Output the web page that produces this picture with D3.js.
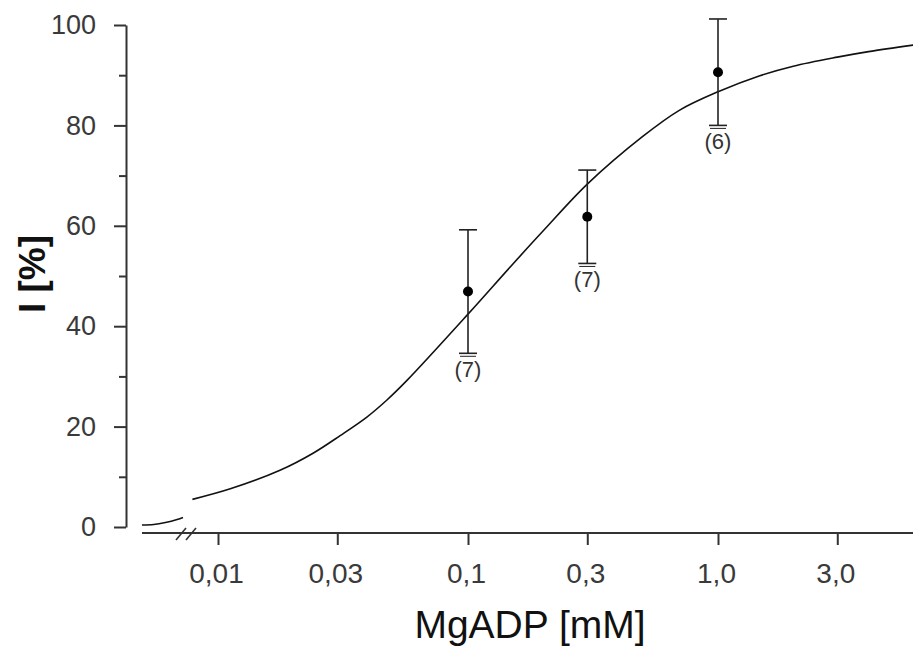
<!DOCTYPE html>
<meta charset="utf-8">
<style>
body { margin: 0; background: #fff; }
svg { display: block; font-family: "Liberation Sans", Arial, sans-serif; }
.axis path, .axis line { stroke: #333; stroke-width: 2px; fill: none; }
.axis text { fill: #3a3a3a; }
.fit { fill: none; stroke: #111; stroke-width: 1.6px; }
.err line { stroke: #222; stroke-width: 1.6px; }
</style>
<body>
<script src="https://d3js.org/d3.v7.min.js"></script>
<script>

var width = 913,
    height = 652;

// measured points (mean, error, n)
var conc = [0.1, 0.3, 1.0];
var inhib = [46.9, 61.8, 90.6];
var errs = [12.3, 9.3, 10.6];
var nLabels = ["(7)", "(7)", "(6)"];

// fitted curve
var fitX = [0.0079, 0.0112, 0.0177, 0.024, 0.0308, 0.0394, 0.0474, 0.057, 0.1, 0.15, 0.2, 0.3, 0.5, 0.7, 1.0, 1.47, 2.0, 3.0, 4.0, 6.03];
var fitY = [5.5, 7.6, 11.3, 14.7, 18.2, 21.9, 25.3, 29.2, 42.4, 52.2, 59.0, 68.3, 77.8, 83.0, 86.7, 89.9, 91.8, 93.6, 94.7, 96.0];

// piece of the curve left of the axis break (x near zero)
var zeroX = [0, 0.001, 0.002, 0.003, 0.0035];
var zeroY = [0.4, 0.5, 0.9, 1.5, 1.9];

var xTicks = [0.01, 0.03, 0.1, 0.3, 1, 3];
var xTickLabels = ["0,01", "0,03", "0,1", "0,3", "1,0", "3,0"];
var yMajor = [0, 20, 40, 60, 80, 100];
var yMinor = [10, 30, 50, 70, 90];

var svg = d3.select("body").append("svg")
    .attr("width", width)
    .attr("height", height);

var x = d3.scaleLog().domain([0.01, 1]).range([218, 718]);
var xZero = d3.scaleLinear().domain([0, 0.0035]).range([142, 183]);
var y = d3.scaleLinear().domain([0, 100]).range([527, 25]);

var axisY = 533, yAxisX = 126;

// x axis
var gx = svg.append("g")
    .attr("class", "axis")
    .attr("transform", "translate(0," + axisY + ")")
    .call(d3.axisBottom(x)
        .tickValues(xTicks)
        .tickSize(12)
        .tickFormat(function(d, i) { return xTickLabels[i]; }));
gx.select(".domain").remove();
gx.selectAll("text")
    .attr("x", -2)
    .attr("y", 36)
    .attr("dy", "0.5em")
    .style("font-size", "28px")
    .style("font-family", "Liberation Sans, Arial, sans-serif");

svg.append("line")
    .attr("x1", xZero(0)).attr("x2", width)
    .attr("y1", axisY).attr("y2", axisY)
    .attr("stroke", "#333").attr("stroke-width", 2);

// break marks
[0, 10].forEach(function(o) {
  svg.append("line")
      .attr("x1", 176 + o).attr("y1", axisY + 7)
      .attr("x2", 186 + o).attr("y2", axisY - 5)
      .attr("stroke", "#333").attr("stroke-width", 1.6);
});

// y axis
var gy = svg.append("g")
    .attr("class", "axis")
    .attr("transform", "translate(" + yAxisX + ",0)")
    .call(d3.axisLeft(y)
        .tickValues(yMajor)
        .tickSize(12)
        .tickSizeOuter(0)
        .tickPadding(18));
gy.selectAll("text")
    .style("font-size", "27px")
    .style("font-family", "Liberation Sans, Arial, sans-serif");

svg.append("g")
    .attr("class", "axis")
    .attr("transform", "translate(" + yAxisX + ",0)")
    .call(d3.axisLeft(y).tickValues(yMinor).tickSize(7).tickFormat(""))
    .select(".domain").remove();

// axis titles
svg.append("text")
    .attr("x", 530)
    .attr("y", 638)
    .attr("text-anchor", "middle")
    .style("font-size", "39px")
    .attr("fill", "#111")
    .text("MgADP [mM]");

svg.append("text")
    .attr("transform", "translate(45,274) rotate(-90)")
    .attr("text-anchor", "middle")
    .style("font-size", "37px")
    .style("font-weight", "bold")
    .attr("fill", "#111")
    .text("I [%]");

// fitted curve
var line = d3.line().curve(d3.curveCatmullRom.alpha(0.5));

svg.append("path")
    .attr("class", "fit")
    .attr("d", line(fitX.map(function(d, i) { return [x(d), y(fitY[i])]; })));

svg.append("path")
    .attr("class", "fit")
    .attr("d", line(zeroX.map(function(d, i) { return [xZero(d), y(zeroY[i])]; })));

// error bars
var pts = conc.map(function(d, i) {
  return { c: d, v: inhib[i], e: errs[i], n: nLabels[i] };
});

var g = svg.append("g").attr("class", "err")
  .selectAll("g")
  .data(pts)
  .enter().append("g");

g.append("line")
    .attr("x1", function(d) { return x(d.c); })
    .attr("x2", function(d) { return x(d.c); })
    .attr("y1", function(d) { return y(d.v + d.e); })
    .attr("y2", function(d) { return y(d.v - d.e); });

g.append("line")
    .attr("x1", function(d) { return x(d.c) - 9; })
    .attr("x2", function(d) { return x(d.c) + 9; })
    .attr("y1", function(d) { return y(d.v + d.e); })
    .attr("y2", function(d) { return y(d.v + d.e); });

g.append("line")
    .attr("x1", function(d) { return x(d.c) - 9; })
    .attr("x2", function(d) { return x(d.c) + 9; })
    .attr("y1", function(d) { return y(d.v - d.e); })
    .attr("y2", function(d) { return y(d.v - d.e); });

g.append("line")
    .attr("x1", function(d) { return x(d.c) - 8; })
    .attr("x2", function(d) { return x(d.c) + 8; })
    .attr("y1", function(d) { return y(d.v - d.e) + 3; })
    .attr("y2", function(d) { return y(d.v - d.e) + 3; })
    .style("stroke-width", "1px");

g.append("circle")
    .attr("cx", function(d) { return x(d.c); })
    .attr("cy", function(d) { return y(d.v); })
    .attr("r", 5)
    .attr("fill", "#000");

g.append("text")
    .attr("x", function(d) { return x(d.c); })
    .attr("y", function(d) { return y(d.v - d.e) + 24; })
    .attr("text-anchor", "middle")
    .style("font-size", "22px")
    .attr("fill", "#333")
    .text(function(d) { return d.n; });

</script>
</body>
